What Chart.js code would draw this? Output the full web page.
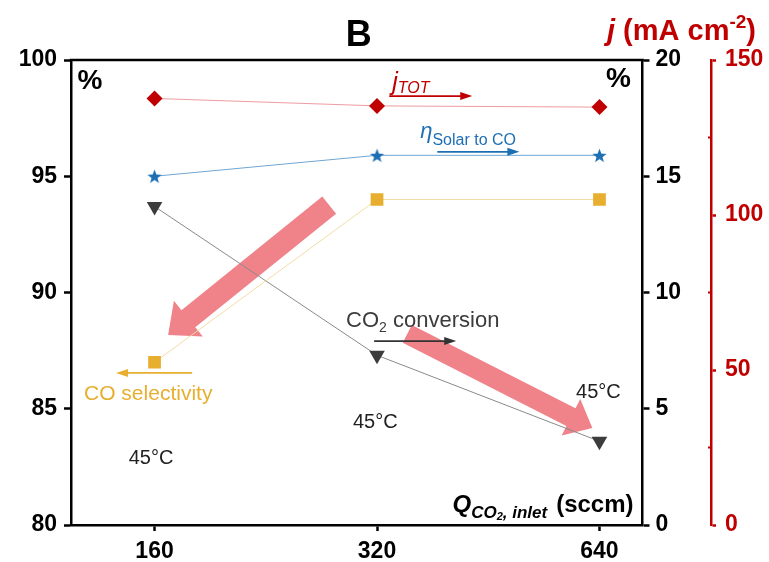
<!DOCTYPE html>
<html>
<head>
<meta charset="utf-8">
<script src="https://cdn.jsdelivr.net/npm/chart.js@4.4.1/dist/chart.umd.min.js"></script>
<style>
  html, body { margin: 0; padding: 0; background: #fff; }
  #wrap { width: 769px; height: 562px; }
</style>
</head>
<body>
<div id="wrap"><canvas id="chart" width="769" height="562"></canvas></div>
<script>
// values
const flowRates = ['160', '320', '640'];          // Q CO2 inlet (sccm)
const jTot = [137.6, 135.2, 134.8];               // mA cm-2 (red axis)
const etaSolarToCO = [15.0, 15.9, 15.9];          // % (right axis)
const coSelectivity = [87.0, 94.0, 94.0];         // % (left axis)
const co2Conversion = [13.7, 7.3, 3.6];           // % (right axis)

const FONT = '"Liberation Sans", Arial, sans-serif';
const RED = '#c00000';
const BLUE = '#1d6fb4';
const GOLD = '#e7ae2f';
const DARK = '#3c3c3c';
const PINK = '#f0828a';

function pts(arr) {
    return arr.map((v, i) => ({ x: i, y: v }));
}

function starImage(r, color) {
    const c = document.createElement('canvas');
    const s = Math.ceil(r * 2 + 2);
    c.width = s; c.height = s;
    const g = c.getContext('2d');
    g.fillStyle = color;
    g.beginPath();
    for (let i = 0; i < 10; i++) {
        const rr = i % 2 ? r * 0.42 : r;
        const a = -Math.PI / 2 + i * Math.PI / 5;
        const x = s / 2 + rr * Math.cos(a), y = s / 2 + 0.7 + rr * Math.sin(a);
        if (i) g.lineTo(x, y); else g.moveTo(x, y);
    }
    g.closePath();
    g.fill();
    return c;
}

function fatArrow(ctx, x0, y0, x1, y1, shaft, headW, headL) {
    const dx = x1 - x0, dy = y1 - y0, len = Math.hypot(dx, dy);
    const ux = dx / len, uy = dy / len, nx = -uy, ny = ux;
    const bx = x1 - ux * headL, by = y1 - uy * headL;
    ctx.beginPath();
    ctx.moveTo(x0 + nx * shaft / 2, y0 + ny * shaft / 2);
    ctx.lineTo(bx + nx * shaft / 2, by + ny * shaft / 2);
    ctx.lineTo(bx + nx * headW / 2, by + ny * headW / 2);
    ctx.lineTo(x1, y1);
    ctx.lineTo(bx - nx * headW / 2, by - ny * headW / 2);
    ctx.lineTo(bx - nx * shaft / 2, by - ny * shaft / 2);
    ctx.lineTo(x0 - nx * shaft / 2, y0 - ny * shaft / 2);
    ctx.closePath();
    ctx.fill();
}

// thin horizontal arrow, head at x1
function lineArrow(ctx, x0, x1, y, color) {
    const dir = Math.sign(x1 - x0);
    ctx.save();
    ctx.strokeStyle = color;
    ctx.fillStyle = color;
    ctx.lineWidth = 1.8;
    ctx.beginPath();
    ctx.moveTo(x0, y);
    ctx.lineTo(x1 - dir * 8, y);
    ctx.stroke();
    ctx.beginPath();
    ctx.moveTo(x1, y);
    ctx.lineTo(x1 - dir * 12, y - 4);
    ctx.lineTo(x1 - dir * 12, y + 4);
    ctx.closePath();
    ctx.fill();
    ctx.restore();
}

// draws a run of [text, font, dy] pieces starting at x
function textRun(ctx, x, y, pieces) {
    pieces.forEach(([t, f, dy]) => {
        ctx.font = f;
        ctx.fillText(t, x, y + (dy || 0));
        x += ctx.measureText(t).width;
    });
    return x;
}

const annotations = {
    id: 'annotations',
    beforeDatasetsDraw(chart) {
        const { ctx, scales } = chart;
        const X = v => scales.x.getPixelForValue(v);
        const Y = v => scales.y.getPixelForValue(v);
        ctx.save();
        ctx.fillStyle = PINK;
        fatArrow(ctx, X(0.785), Y(93.76), X(0.061), Y(88.17), 22, 46, 26);
        fatArrow(ctx, X(1.136), Y(88.22), X(1.968), Y(84.17), 20, 41, 24);
        ctx.restore();
    },
    afterDraw(chart) {
        const { ctx, chartArea: a, scales } = chart;
        const X = v => scales.x.getPixelForValue(v);
        const Y = v => scales.y.getPixelForValue(v);
        ctx.save();

        // top frame line
        ctx.strokeStyle = '#000';
        ctx.lineWidth = 2.5;
        ctx.beginPath();
        ctx.moveTo(a.left - 1.25, a.top);
        ctx.lineTo(a.right + 1.25, a.top);
        ctx.stroke();

        // minor ticks of the j axis
        const y3 = scales.y3;
        ctx.strokeStyle = RED;
        ctx.lineWidth = 2;
        [25, 75, 125].forEach(v => {
            const py = y3.getPixelForValue(v);
            ctx.beginPath();
            ctx.moveTo(y3.left - 3, py);
            ctx.lineTo(y3.left, py);
            ctx.stroke();
        });

        // panel letter
        ctx.fillStyle = '#000';
        ctx.textAlign = 'center';
        ctx.textBaseline = 'middle';
        ctx.font = 'bold 36px ' + FONT;
        ctx.fillText('B', (a.left + a.right) / 2 + 2, 36);

        // j axis title
        ctx.textAlign = 'left';
        ctx.textBaseline = 'alphabetic';
        ctx.fillStyle = RED;
        textRun(ctx, 607, 40, [
            ['j', 'italic bold 29px ' + FONT],
            [' (mA cm', 'bold 29px ' + FONT],
            ['-2', 'bold 19px ' + FONT, -12],
            [')', 'bold 29px ' + FONT]
        ]);

        // % units
        ctx.fillStyle = '#000';
        ctx.textAlign = 'center';
        ctx.textBaseline = 'middle';
        ctx.font = 'bold 28px ' + FONT;
        ctx.fillText('%', X(-0.290), Y(99.10));
        ctx.fillText('%', X(2.085), Y(99.18));

        // 45 °C labels
        ctx.fillStyle = '#222';
        ctx.font = '20px ' + FONT;
        ctx.fillText('45°C', X(-0.016), Y(82.84));
        ctx.fillText('45°C', X(0.992), Y(84.39));
        ctx.fillText('45°C', X(1.995), Y(85.72));

        ctx.textAlign = 'left';
        ctx.textBaseline = 'alphabetic';

        // j_TOT
        ctx.fillStyle = RED;
        textRun(ctx, X(1.068), Y(98.71), [
            ['j', 'italic 25px ' + FONT],
            ['TOT', 'italic 16px ' + FONT, 3]
        ]);
        lineArrow(ctx, X(1.055), X(1.428), Y(98.45), RED);

        // eta solar to CO
        ctx.fillStyle = BLUE;
        textRun(ctx, X(1.194), Y(96.64), [
            ['\u03B7', 'italic 22px ' + FONT],
            ['Solar to CO', '16px ' + FONT, 7]
        ]);
        lineArrow(ctx, X(1.271), X(1.640), Y(96.05), BLUE);

        // CO selectivity
        ctx.fillStyle = GOLD;
        ctx.font = '21px ' + FONT;
        ctx.fillText('CO selectivity', X(-0.317), Y(85.38));
        lineArrow(ctx, X(0.169), X(-0.173), Y(86.54), GOLD);

        // CO2 conversion
        ctx.fillStyle = DARK;
        textRun(ctx, X(0.861), Y(88.52), [
            ['CO', '22px ' + FONT],
            ['2', '14px ' + FONT, 5],
            [' conversion', '22px ' + FONT]
        ]);
        lineArrow(ctx, X(0.987), X(1.356), Y(87.91), '#333');

        // x axis title inside the plot
        ctx.fillStyle = '#000';
        const base = a.bottom - 13;
        textRun(ctx, a.right - 190, base, [
            ['Q', 'italic bold 24px ' + FONT],
            ['CO', 'italic bold 17px ' + FONT, 6],
            ['2', 'italic bold 11px ' + FONT, 8],
            [', inlet', 'italic bold 17px ' + FONT, 6]
        ]);
        ctx.textAlign = 'right';
        ctx.font = 'bold 24px ' + FONT;
        ctx.fillText('(sccm)', a.right - 9, base);

        ctx.restore();
    }
};

const tickFont = { family: FONT, size: 23, weight: 'bold' };

function yAxis(pos, min, max, step, color, width, pad) {
    return {
        position: pos,
        min: min,
        max: max,
        ticks: { stepSize: step, color: color, font: tickFont, padding: pad },
        grid: { drawOnChartArea: false, tickLength: 7, tickWidth: 2.5, tickColor: color },
        border: { color: color, width: 2.5 },
        afterFit: s => { s.width = width; }
    };
}

new Chart(document.getElementById('chart'), {
    type: 'line',
    data: {
        datasets: [
            {
                label: 'j TOT',
                data: pts(jTot),
                yAxisID: 'y3',
                borderColor: 'rgba(220,60,70,0.5)',
                borderWidth: 1,
                pointStyle: 'rectRot',
                pointRadius: 8,
                pointBackgroundColor: RED,
                pointBorderColor: RED,
                pointBorderWidth: 0
            },
            {
                label: 'eta Solar to CO',
                data: pts(etaSolarToCO),
                yAxisID: 'y2',
                borderColor: '#6fa6d3',
                borderWidth: 1,
                pointStyle: starImage(7.5, BLUE),
                pointRadius: 8
            },
            {
                label: 'CO selectivity',
                data: pts(coSelectivity),
                yAxisID: 'y',
                borderColor: '#f2dca6',
                borderWidth: 1,
                pointStyle: 'rect',
                pointRadius: 9,
                pointBackgroundColor: GOLD,
                pointBorderColor: GOLD,
                pointBorderWidth: 0
            },
            {
                label: 'CO2 conversion',
                data: pts(co2Conversion),
                yAxisID: 'y2',
                borderColor: '#8a8a8a',
                borderWidth: 1,
                pointStyle: 'triangle',
                rotation: 180,
                pointRadius: 9,
                pointBackgroundColor: DARK,
                pointBorderColor: DARK,
                pointBorderWidth: 0
            }
        ]
    },
    options: {
        responsive: false,
        animation: false,
        devicePixelRatio: 1,
        layout: { padding: { top: 60, left: 0, right: 0, bottom: 0 } },
        plugins: {
            legend: { display: false },
            tooltip: { enabled: false }
        },
        elements: { line: { tension: 0 } },
        scales: {
            x: {
                type: 'linear',
                min: -0.3756,
                max: 2.1934,
                afterBuildTicks: s => { s.ticks = flowRates.map((_, i) => ({ value: i })); },
                ticks: {
                    callback: v => flowRates[v],
                    color: '#000',
                    font: tickFont,
                    padding: 7,
                    maxRotation: 0,
                    autoSkip: false
                },
                grid: { drawOnChartArea: false, tickLength: 6, tickWidth: 2.5, tickColor: '#000' },
                border: { color: '#000', width: 2.5 },
                afterFit: s => { s.height = 37; }
            },
            y: yAxis('left', 80, 100, 5, '#000', 71, 7),
            y2: yAxis('right', 0, 20, 5, '#000', 68.5, 6),
            y3: Object.assign(yAxis('right', 0, 150, 50, RED, 58, 9), {
                grid: { drawOnChartArea: false, tickLength: 5, tickWidth: 2.5, tickColor: RED }
            })
        }
    },
    plugins: [annotations]
});
</script>
</body>
</html>
